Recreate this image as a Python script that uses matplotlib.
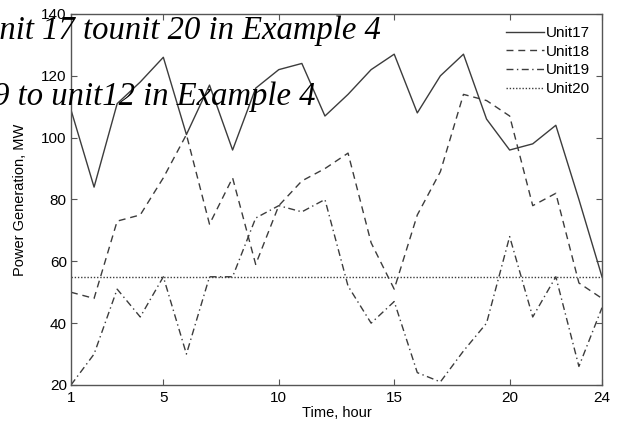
import matplotlib
matplotlib.use('Agg')
import matplotlib.pyplot as plt

# hourly generation, MW
hours = list(range(1, 25))
unit17 = [109, 84, 111, 118, 126, 101, 117, 96, 116, 122, 124, 107,
          114, 122, 127, 108, 120, 127, 106, 96, 98, 104, 80, 55]
unit18 = [50, 48, 73, 75, 87, 101, 72, 87, 59, 78, 86, 90,
          95, 66, 51, 75, 89, 114, 112, 107, 78, 82, 53, 48]
unit19 = [20, 30, 51, 42, 55, 30, 55, 55, 74, 78, 76, 80,
          52, 40, 47, 24, 21, 31, 40, 68, 42, 55, 26, 45]
unit20 = [55] * 24

labels = ['Unit17', 'Unit18', 'Unit19', 'Unit20']
xticks = [1, 5, 10, 15, 20, 24]
yticks = [20, 40, 60, 80, 100, 120, 140]

plt.rcParams['font.family'] = ['Liberation Sans', 'DejaVu Sans']

fig = plt.figure(figsize=(6.21, 4.29), dpi=100)
ax = fig.add_axes([0.1143, 0.1026, 0.9694 - 0.1143, 0.9674 - 0.1026])

col = '#3c3c3c'
styles = ['-', (0, (5, 3.5)), (0, (5, 2.5, 1, 2.5)), (0, (1, 1.3))]
for data, ls, lab in zip([unit17, unit18, unit19, unit20], styles, labels):
    ax.plot(hours, data, color=col, lw=1.0, linestyle=ls, label=lab)

ax.set_xlim(1, 24)
ax.set_ylim(20, 140)
ax.set_xticks(xticks)
ax.set_yticks(yticks)
ax.tick_params(direction='in', top=True, right=True, length=4, width=0.8,
               color='#555555', labelsize=11)
ax.tick_params(axis='x', pad=4)
ax.tick_params(axis='y', pad=3)
for s in ax.spines.values():
    s.set_color('#555555')
    s.set_linewidth(1.0)

ax.set_xlabel('Time, hour', fontsize=10.5, labelpad=1)
ax.set_ylabel('Power Generation, MW', fontsize=10.5, labelpad=10)

ax.legend(loc='upper right', frameon=False, fontsize=11, handlelength=2.5,
          handletextpad=0.1, labelspacing=0.3, borderaxespad=0.4)

# stray caption text overlapping the chart in the source image
fig.text(381 / 621, 1 - 39 / 429, 'unit 17 tounit 20 in Example 4',
         ha='right', va='baseline', fontsize=23.5, style='italic',
         family='Liberation Serif')
fig.text(315 / 621, 1 - 105 / 429, 'unit 9 to unit12 in Example 4',
         ha='right', va='baseline', fontsize=23.5, style='italic',
         family='Liberation Serif')

fig.savefig('out.png', dpi=100)
